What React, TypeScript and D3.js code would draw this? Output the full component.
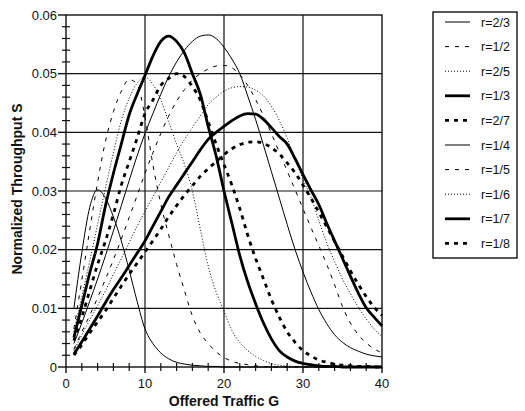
import React from 'react';
import * as d3 from 'd3';

const W = 525;
const H = 411;

// offered traffic G sampled at every integer 1..40
const trafficG = d3.range(1, 41);

const rLabels = ['r=2/3', 'r=1/2', 'r=2/5', 'r=1/3', 'r=2/7', 'r=1/4', 'r=1/5', 'r=1/6', 'r=1/7', 'r=1/8'];

const sR23 = [0.010, 0.0195, 0.0272, 0.0302, 0.0288, 0.0256, 0.0215, 0.0165, 0.0112, 0.0065,
  0.0040, 0.0024, 0.0014, 0.0008, 0.0005, 0.0003, 0.0002, 0.0001, 0.0001, 0,
  0, 0, 0, 0, 0, 0, 0, 0, 0, 0, 0, 0, 0, 0, 0, 0, 0, 0, 0, 0];
const sR12 = [0.0065, 0.0148, 0.0233, 0.0315, 0.0385, 0.0435, 0.047, 0.0490, 0.0482, 0.0426,
  0.0345, 0.0278, 0.0225, 0.0175, 0.013, 0.0087, 0.0058, 0.0040, 0.0026, 0.0016,
  0.001, 0.0006, 0.0004, 0.0002, 0.0001, 0, 0, 0, 0, 0, 0, 0, 0, 0, 0, 0, 0, 0, 0, 0];
const sR25 = [0.006, 0.012, 0.018, 0.0243, 0.0305, 0.0365, 0.042, 0.0458, 0.0484, 0.0494,
  0.0482, 0.0455, 0.0418, 0.038, 0.0345, 0.030, 0.0235, 0.0172, 0.0128, 0.0095,
  0.0062, 0.0042, 0.0028, 0.0018, 0.0011, 0.0006, 0.0003, 0.0002, 0.0001, 0.0001,
  0, 0, 0, 0, 0, 0, 0, 0, 0, 0];
const sR13 = [0.005, 0.0105, 0.016, 0.021, 0.0275, 0.033, 0.038, 0.043, 0.0465, 0.0497,
  0.053, 0.0555, 0.0564, 0.0555, 0.0535, 0.050, 0.0465, 0.041, 0.036, 0.030,
  0.0245, 0.019, 0.0145, 0.0108, 0.0075, 0.0048, 0.0028, 0.0017, 0.001, 0.0006,
  0.0004, 0.0002, 0.0001, 0.0001, 0, 0, 0, 0, 0, 0];
const sR27 = [0.0045, 0.0085, 0.013, 0.0175, 0.0215, 0.026, 0.031, 0.035, 0.039, 0.0432,
  0.0455, 0.048, 0.0492, 0.050, 0.0495, 0.0478, 0.0455, 0.0418, 0.038, 0.0345,
  0.031, 0.027, 0.0225, 0.0185, 0.015, 0.0115, 0.0085, 0.006, 0.0042, 0.0028,
  0.0019, 0.0012, 0.0008, 0.0005, 0.0003, 0.0002, 0.0001, 0.0001, 0, 0];
const sR14 = [0.004, 0.0075, 0.0112, 0.015, 0.019, 0.0232, 0.0275, 0.0318, 0.036, 0.0398,
  0.0432, 0.0465, 0.0495, 0.052, 0.054, 0.0555, 0.0564, 0.0566, 0.056, 0.0545,
  0.0525, 0.050, 0.0462, 0.0422, 0.0378, 0.0333, 0.0288, 0.0243, 0.020, 0.0162,
  0.0128, 0.0098, 0.0074, 0.0055, 0.0042, 0.0033, 0.0027, 0.0022, 0.0019, 0.0017];
const sR15 = [0.003, 0.006, 0.0088, 0.0118, 0.015, 0.0183, 0.0218, 0.0255, 0.0292, 0.033,
  0.0365, 0.0398, 0.0428, 0.0453, 0.0473, 0.0489, 0.050, 0.0508, 0.0513, 0.0514,
  0.051, 0.0498, 0.048, 0.0456, 0.0428, 0.0398, 0.0366, 0.0334, 0.0302, 0.027,
  0.0238, 0.0207, 0.0175, 0.014, 0.0103, 0.0075, 0.0055, 0.0041, 0.0031, 0.0024];
const sR16 = [0.0028, 0.0055, 0.008, 0.0105, 0.013, 0.0158, 0.0185, 0.0212, 0.024, 0.0265,
  0.029, 0.0315, 0.034, 0.0365, 0.0388, 0.0408, 0.0428, 0.0447, 0.046, 0.047,
  0.0476, 0.0478, 0.0477, 0.0472, 0.0462, 0.0445, 0.042, 0.039, 0.0355, 0.032,
  0.029, 0.025, 0.0212, 0.018, 0.015, 0.0125, 0.0102, 0.0082, 0.0065, 0.0052];
const sR17 = [0.0022, 0.0043, 0.0065, 0.0087, 0.011, 0.0132, 0.0152, 0.0173, 0.0194, 0.0215,
  0.024, 0.0265, 0.029, 0.031, 0.033, 0.035, 0.037, 0.0388, 0.040, 0.041,
  0.042, 0.0428, 0.0432, 0.0431, 0.0422, 0.0408, 0.0393, 0.038, 0.0355, 0.0328,
  0.0302, 0.0277, 0.0245, 0.0215, 0.0185, 0.0155, 0.0126, 0.0101, 0.0085, 0.007];
const sR18 = [0.002, 0.0038, 0.0058, 0.0077, 0.0096, 0.0117, 0.0138, 0.0158, 0.0177, 0.0196,
  0.0215, 0.0235, 0.0256, 0.0275, 0.0293, 0.0309, 0.0325, 0.0338, 0.035, 0.0362,
  0.0372, 0.0379, 0.0383, 0.0384, 0.0381, 0.0374, 0.0363, 0.0348, 0.0331, 0.031,
  0.0288, 0.0264, 0.0239, 0.0214, 0.0189, 0.0164, 0.0141, 0.012, 0.0102, 0.0088];

const seriesS = [sR23, sR12, sR25, sR13, sR27, sR14, sR15, sR16, sR17, sR18];

const yTicks = [0, 0.01, 0.02, 0.03, 0.04, 0.05, 0.06];
const xTicks = [0, 10, 20, 30, 40];

// line look per series: thin solid, thin dash, dotted, thick solid, thick dash (repeats)
const lineStyles = [
  { w: 1, dash: undefined },
  { w: 1, dash: '4,6' },
  { w: 1, dash: '1,2' },
  { w: 2.8, dash: undefined },
  { w: 2.8, dash: '4,5' },
  { w: 1, dash: undefined },
  { w: 1, dash: '4,6' },
  { w: 1, dash: '1,2' },
  { w: 2.8, dash: undefined },
  { w: 2.8, dash: '4,5' },
];

const FONT = '"Liberation Sans", Arial, sans-serif';

export default function App() {
  const plot = { left: 66, right: 382, top: 15, bottom: 367 };
  const x = d3.scaleLinear().domain([0, 40]).range([plot.left, plot.right]);
  const y = d3.scaleLinear().domain([0, 0.06]).range([plot.bottom, plot.top]);

  const line = d3.line<number>()
    .x((_, i) => x(trafficG[i]))
    .y(d => y(d))
    .curve(d3.curveMonotoneX);

  const yMinor = d3.range(0, 0.0601, 0.002).filter(v => Math.abs(v * 100 - Math.round(v * 100)) > 1e-6);
  const xMinor = d3.range(0, 40.01, 2).filter(v => v % 10 !== 0);

  const legend = { x: 433, y: 12, w: 84, h: 246, step: 24.6 };

  return (
    <svg width={W} height={H} style={{ position: 'absolute', left: 0, top: 0, background: '#fff' }}>
      <rect width={W} height={H} fill="#fff" />

      {/* grid */}
      {yTicks.slice(1, -1).map(t => (
        <line key={'gy' + t} x1={plot.left} x2={plot.right} y1={y(t)} y2={y(t)} stroke="#111" strokeWidth={1.2} />
      ))}
      {xTicks.slice(1, -1).map(t => (
        <line key={'gx' + t} x1={x(t)} x2={x(t)} y1={plot.top} y2={plot.bottom} stroke="#111" strokeWidth={1.2} />
      ))}
      <rect x={plot.left} y={plot.top} width={plot.right - plot.left} height={plot.bottom - plot.top}
        fill="none" stroke="#111" strokeWidth={1.4} />

      {/* y ticks */}
      {yTicks.map(t => (
        <g key={'yt' + t}>
          <line x1={plot.left - 8} x2={plot.left} y1={y(t)} y2={y(t)} stroke="#111" strokeWidth={1.4} />
          <text x={plot.left - 9} y={y(t) + 4.5} textAnchor="end" fontFamily={FONT} fontSize={13} fill="#111">
            {t === 0 ? '0' : t.toFixed(2)}
          </text>
        </g>
      ))}
      {yMinor.map(t => (
        <line key={'ym' + t} x1={plot.left - 4} x2={plot.left + 4} y1={y(t)} y2={y(t)} stroke="#111" strokeWidth={1.2} />
      ))}

      {/* x ticks */}
      {xTicks.map(t => (
        <g key={'xt' + t}>
          <line x1={x(t)} x2={x(t)} y1={plot.bottom} y2={plot.bottom + 6} stroke="#111" strokeWidth={1.4} />
          <text x={x(t)} y={plot.bottom + 21} textAnchor="middle" fontFamily={FONT} fontSize={13} fill="#111">{t}</text>
        </g>
      ))}
      {xMinor.map(t => (
        <line key={'xm' + t} x1={x(t)} x2={x(t)} y1={plot.bottom - 4} y2={plot.bottom + 4} stroke="#111" strokeWidth={1.2} />
      ))}

      {/* curves */}
      {seriesS.map((s, i) => (
        <path key={rLabels[i]} d={line(s) || ''} fill="none" stroke="#000"
          strokeWidth={lineStyles[i].w} strokeDasharray={lineStyles[i].dash} />
      ))}

      {/* axis titles */}
      <text x={(plot.left + plot.right) / 2} y={406} textAnchor="middle" fontFamily={FONT}
        fontSize={14} fontWeight="bold" fill="#111">Offered Traffic G</text>
      <text transform={`translate(22, ${(plot.top + plot.bottom) / 2 - 2}) rotate(-90)`} textAnchor="middle"
        fontFamily={FONT} fontSize={14} fontWeight="bold" fill="#111">Normalized Throughput S</text>

      {/* legend */}
      <rect x={legend.x} y={legend.y} width={legend.w} height={legend.h} fill="#fff" stroke="#111" strokeWidth={1.4} />
      {rLabels.map((lab, i) => {
        const cy = legend.y + 10 + i * legend.step;
        return (
          <g key={'lg' + lab}>
            <line x1={445} x2={470} y1={cy} y2={cy} stroke="#000"
              strokeWidth={lineStyles[i].w} strokeDasharray={lineStyles[i].dash} />
            <text x={481} y={cy + 4.5} fontFamily={FONT} fontSize={12.5} fill="#111">{lab}</text>
          </g>
        );
      })}
    </svg>
  );
}
